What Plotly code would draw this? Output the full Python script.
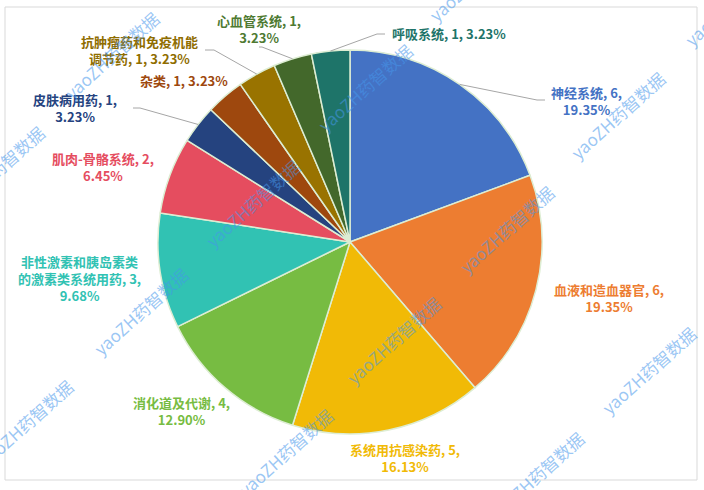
import math
import plotly.graph_objects as go

# Drug categories (clockwise from 12 o'clock) and counts
categories = [
    "神经系统", "血液和造血器官", "系统用抗感染药", "消化道及代谢",
    "非性激素和胰岛素类<br>的激素类系统用药", "肌肉-骨骼系统", "皮肤病用药",
    "杂类", "抗肿瘤药和免疫机能<br>调节药", "心血管系统", "呼吸系统",
]
counts = [6, 6, 5, 4, 3, 2, 1, 1, 1, 1, 1]

colors = [
    "#4472C4", "#ED7D31", "#F1BA06", "#77BC42", "#31C2B3", "#E54D5F",
    "#25437F", "#9E480E", "#997300", "#43682B", "#1E7469",
]
label_colors = [
    "#4472C4", "#ED7D31", "#F1BA06", "#77BC42", "#31C2B3", "#E54D5F",
    "#25437F", "#9E480E", "#8F6D00", "#4E7A32", "#1E7469",
]

W, H = 704, 490
CX, CY, R = 350, 242, 192  # pie centre / radius in pixels

# label layout: centre (px), line break before percentage, leader path
label_pos = [(586, 101), (609, 298), (405, 458), (181, 411), (79, 278),
             (103, 167), (75, 108), (184, 81), (139, 50), (259, 29), (449, 34)]
pct_break = [True, True, True, True, True, True, True, False, False, True, False]
leader = [
    [(537, 100), (545, 100)], None, None, None, None, None,
    [(140, 108), (133, 108)], None, [(214, 50), (205, 50)],
    [(262, 47), (259, 47)], [(377, 34), (385, 34)],
]


def px(x):
    return x / W


def py(y):
    return 1 - y / H


fig = go.Figure(go.Pie(
    labels=[c.replace("<br>", "") for c in categories],
    values=counts,
    sort=False,
    direction="clockwise",
    rotation=0,
    textinfo="none",
    marker=dict(colors=colors, line=dict(color="#DDEDD3", width=1.5)),
    domain=dict(x=[px(CX - R), px(CX + R)], y=[py(CY + R), py(CY - R)]),
    showlegend=False,
))

total = sum(counts)
annotations = []
shapes = []
cum = 0
for i, (name, v) in enumerate(zip(categories, counts)):
    mid = (cum + v / 2) / total * 2 * math.pi
    cum += v
    pct = f"{v / total * 100:.2f}%"
    sep = ",<br>" if pct_break[i] else ", "
    text = f"<b>{name}, {v}{sep}{pct}</b>"
    lx, ly = label_pos[i]
    annotations.append(dict(
        x=px(lx), y=py(ly), xref="paper", yref="paper", text=text,
        showarrow=False, xanchor="center", yanchor="middle", align="center",
        font=dict(family="Noto Sans CJK SC", size=13, color=label_colors[i]),
    ))
    if leader[i]:
        pts = [(CX + R * math.sin(mid), CY - R * math.cos(mid))] + leader[i]
        path = "M " + " L ".join(f"{px(a)},{py(b)}" for a, b in pts)
        shapes.append(dict(type="path", xref="paper", yref="paper", path=path,
                           line=dict(color="#A6A6A6", width=1)))

# chart area frame
shapes.append(dict(type="rect", xref="paper", yref="paper",
                   x0=px(5), x1=px(697), y0=py(480), y1=py(7),
                   line=dict(color="#D9D9D9", width=1), layer="below"))

# repeated watermark
wm_text = "yaoZH药智数据"
wm_pos = [(111, 55), (-3, 170), (252, 203), (365, 88), (476, -22), (731, 2),
          (617, 115), (506, 229), (393, 340), (648, 370), (536, 475),
          (140, 311), (25, 423), (285, 452)]
for x, y in wm_pos:
    annotations.append(dict(
        x=px(x), y=py(y), xref="paper", yref="paper", text=wm_text,
        showarrow=False, textangle=-42, xanchor="center", yanchor="middle",
        font=dict(family="Noto Sans CJK SC", size=17,
                  color="rgba(70,150,235,0.55)"),
    ))

fig.update_layout(
    width=W, height=H,
    margin=dict(l=0, r=0, t=0, b=0),
    paper_bgcolor="white", plot_bgcolor="white",
    annotations=annotations, shapes=shapes,
)

fig.write_html("out.html")
